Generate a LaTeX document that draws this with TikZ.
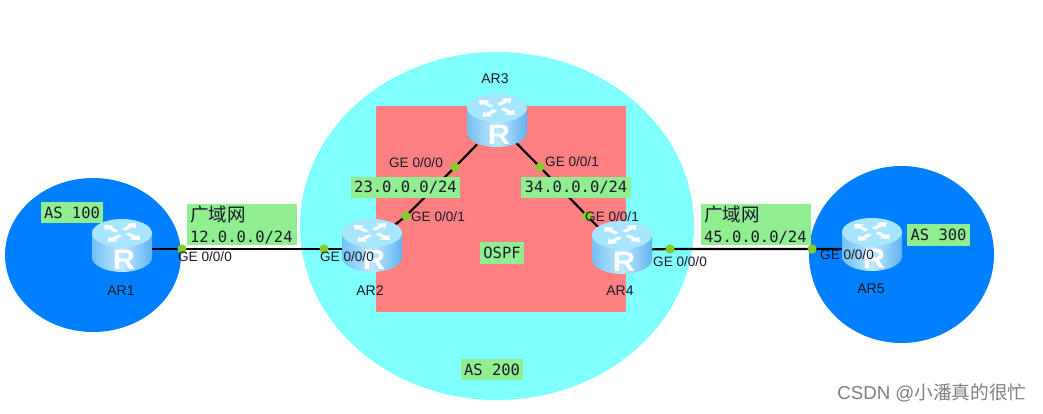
\documentclass[tikz,border=0pt]{standalone}
\usepackage{fontspec}
\setmainfont{Liberation Sans}
\newfontfamily\cjkfont{Noto Sans CJK SC}
\newfontfamily\codefont{DejaVu Sans Mono}
\definecolor{asblue}{HTML}{0080FF}
\definecolor{ascyan}{HTML}{80FFFF}
\definecolor{ospfred}{HTML}{FF8080}
\definecolor{tagfill}{HTML}{90EE90}
\definecolor{portdot}{HTML}{84CC2E}
\definecolor{inktext}{HTML}{1A1A2A}
\definecolor{rtleft}{HTML}{74BFF4}
\definecolor{rtmid}{HTML}{BEE9FF}
\definecolor{rtright}{HTML}{62B2F0}
\definecolor{rttop}{HTML}{A8E6FF}
\tikzset{
  x=1pt,y=-1pt,
  asregion/.style={fill=#1,draw=none},
  routerbox/.style={minimum width=60pt,minimum height=53pt,inner sep=0pt,draw=none},
  link/.style={draw=black,line width=2.2pt},
  portdotstyle/.style={circle,fill=portdot,draw=none,minimum size=9pt,inner sep=0pt},
  port/.style={font=\fontsize{13.6}{13.6}\selectfont,text=inktext,inner sep=0pt},
  rname/.style={font=\fontsize{14}{14}\selectfont,text=inktext,inner sep=0pt},
  tag/.style={fill=tagfill,draw=none,inner sep=0pt,font=\codefont\fontsize{15.5}{15.5}\selectfont,text=inktext},
  tagtwo/.style={fill=tagfill,draw=none,inner xsep=3pt,inner ysep=0pt,text width=104pt,minimum height=41pt,align=left,font=\codefont\fontsize{15.5}{21}\selectfont,text=inktext},
  routerpic/.pic={
    \shade[left color=rtleft,right color=rtright,middle color=rtmid]
      (-30,-12) -- (-30,12) .. controls (-30,20) and (-16,26.5) .. (0,26.5)
      .. controls (16,26.5) and (30,20) .. (30,12) -- (30,-12) -- cycle;
    \fill[rttop] (0,-12.5) ellipse [x radius=30,y radius=14];
    \begin{scope}[shift={(0,-13)},yscale=.52]
      \foreach \a in {45,135,225,315}{
        \fill[white,rotate=\a] (5,-5) -- (15,-5) -- (15,-9) -- (23,-2.5) -- (15,4) -- (15,0) -- (5,0) -- cycle;
      }
    \end{scope}
    \node[text=white,inner sep=0pt,xscale=1.1,font=\bfseries\fontsize{28}{28}\selectfont] at (2,14) {R};
  }
}
\begin{document}
\begin{tikzpicture}
\useasboundingbox (0,0) rectangle (1043,413);
\fill[white] (0,0) rectangle (1043,413);
% regions
\fill[asregion=asblue] (93,255) ellipse [x radius=88,y radius=77];
\fill[asregion=ascyan] (497,226) ellipse [x radius=197,y radius=174];
\fill[asregion=asblue] (901.5,254.5) ellipse [x radius=92.5,y radius=88.5];
\fill[ospfred] (376,106) rectangle (626,312);
% routers (anchors)
\node[routerbox] (ar1) at (122,245.5) {};
\node[routerbox] (ar2) at (372,245.5) {};
\node[routerbox] (ar3) at (497,120.5) {};
\node[routerbox] (ar4) at (622,247.5) {};
\node[routerbox] (ar5) at (872,244.5) {};
% port dots
\node[portdotstyle] (d1) at (182,249) {};
\node[portdotstyle] (d2) at (324,249) {};
\node[portdotstyle] (d3) at (455,167) {};
\node[portdotstyle] (d4) at (406,216) {};
\node[portdotstyle] (d5) at (540,167) {};
\node[portdotstyle] (d6) at (587,216) {};
\node[portdotstyle] (d7) at (670,249) {};
\node[portdotstyle] (d8) at (812,249) {};
% links
\draw[link] ([yshift=-3.5pt]ar1.center) -- ([yshift=-3.5pt]ar2.center);
\draw[link] (d3.center) -- ([xshift=-20pt,yshift=-24pt]ar3.center);
\draw[link] (d3.center) -- (d4.center) -- ([xshift=-3pt,yshift=0pt]ar2.center);
\draw[link] (d5.center) -- ([xshift=-3pt,yshift=0pt]ar3.center);
\draw[link] (d5.center) -- (d6.center) -- ([xshift=-3pt,yshift=0pt]ar4.center);
\draw[link] ([yshift=-2.5pt]ar4.center) -- (d7.center) -- (d8.center) -- ([yshift=-4.5pt]ar5.center);
% router drawings
\foreach \r in {ar1,ar2,ar3,ar4,ar5}{ \pic at (\r.center) {routerpic}; }
% dots again over links
\foreach \d in {d1,d2,d3,d4,d5,d6,d7,d8}{ \fill[portdot] (\d.center) circle [radius=4.5]; }
% router names
\node[rname] (n1) at (121,291) {AR1};
\node[rname] (n2) at (370,291) {AR2};
\node[rname] (n3) at (495,79) {AR3};
\node[rname] (n4) at (620,291) {AR4};
\node[rname] (n5) at (871,289) {AR5};
% port labels
\node[port] (p1) at (205,256.5) {GE 0/0/0};
\node[port] (p2) at (347,256.5) {GE 0/0/0};
\node[port] (p3) at (416,162.5) {GE 0/0/0};
\node[port] (p4) at (438,217) {GE 0/0/1};
\node[port] (p5) at (572,161.5) {GE 0/0/1};
\node[port] (p6) at (612,217) {GE 0/0/1};
\node[port] (p7) at (680,262) {GE 0/0/0};
\node[port] (p8) at (847,255) {GE 0/0/0};
% tags
\node[tag,minimum width=62pt,minimum height=21pt] (t1) at (72,212.5) {AS 100};
\node[tag,minimum width=62pt,minimum height=21pt] (t2) at (492,369.5) {AS 200};
\node[tag,minimum width=63pt,minimum height=22pt] (t3) at (938.5,235) {AS 300};
\node[tag,minimum width=44pt,minimum height=22pt] (t4) at (502,253) {OSPF};
\node[tag,minimum width=109pt,minimum height=21pt] (t5) at (405.5,187.5) {23.0.0.0/24};
\node[tag,minimum width=110pt,minimum height=21pt] (t6) at (576,187.5) {34.0.0.0/24};
\node[tagtwo] (t7) at (242,224.5) {{\cjkfont\fontsize{18.5}{18.5}\selectfont 广域网}\\12.0.0.0/24};
\node[tagtwo] (t8) at (756,224.5) {{\cjkfont\fontsize{18.5}{18.5}\selectfont 广域网}\\45.0.0.0/24};
% watermark
\node[inner sep=0pt,text=gray,font=\fontsize{18.7}{18.7}\selectfont] (wm) at (932,393) {CSDN @{\cjkfont 小潘真的很忙}};
\end{tikzpicture}
\end{document}
